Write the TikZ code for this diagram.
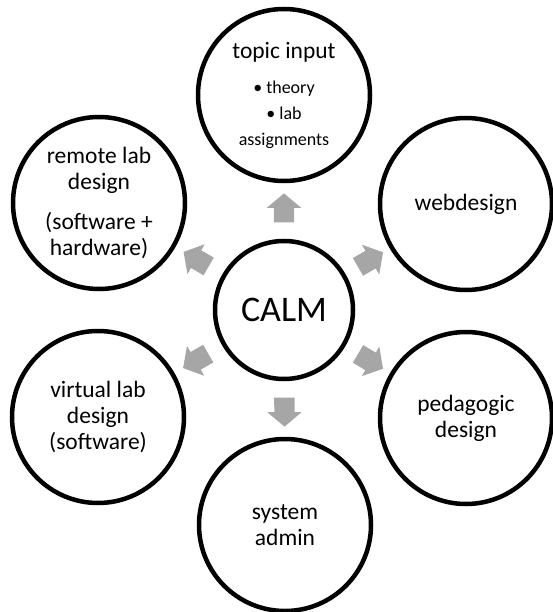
\documentclass[tikz,border=0pt]{standalone}
\usepackage{fontspec}
\setmainfont{Carlito}
\usetikzlibrary{shapes.arrows}
\definecolor{arrowgray}{HTML}{A6A6A6}
\newcommand\bulletsize{\fontsize{18}{21}\selectfont}
\tikzset{
  bubble/.style={circle, draw=black, line width=4.5pt, minimum size=172pt,
    inner sep=0pt, align=center, font=\fontsize{23.5}{26}\selectfont},
  hub/.style={bubble, minimum size=138pt, font=\fontsize{36}{40}\selectfont},
  blockarrow/.style={single arrow, fill=arrowgray, draw=none,
    inner xsep=0pt, inner ysep=10pt, minimum height=29pt,
    single arrow head extend=7pt, single arrow tip angle=100,
    sloped, allow upside down}
}

\begin{document}
\begin{tikzpicture}[x=1pt, y=-1pt]
  \useasboundingbox (0,0) rectangle (553,612);
  % hub and the six topics around it
  \node[hub] (calm) at (284,310) {CALM};
  \node[bubble] (topic) at (284,95) {topic input\\[9pt]
    \bulletsize \textbullet\ theory\\ \bulletsize \textbullet\ lab\\ \bulletsize assignments};
  \node[bubble] (web) at (466,204) {webdesign};
  \node[bubble] (peda) at (466,418) {pedagogic\\design};
  \node[bubble] (admin) at (285,525) {system\\admin};
  \node[bubble] (virtual) at (98,417) {virtual lab\\design\\(software)};
  \node[bubble] (remote) at (99,203) {remote lab\\design\\[14pt](software +\\hardware)};
  % block arrows pointing outwards
  \foreach \target/\name in {topic/atopic, web/aweb, peda/apeda, admin/aadmin,
    virtual/avirtual, remote/aremote}
    \path (calm.center) -- (\target.center) node[blockarrow, pos=0.455] (\name) {};
\end{tikzpicture}
\end{document}
